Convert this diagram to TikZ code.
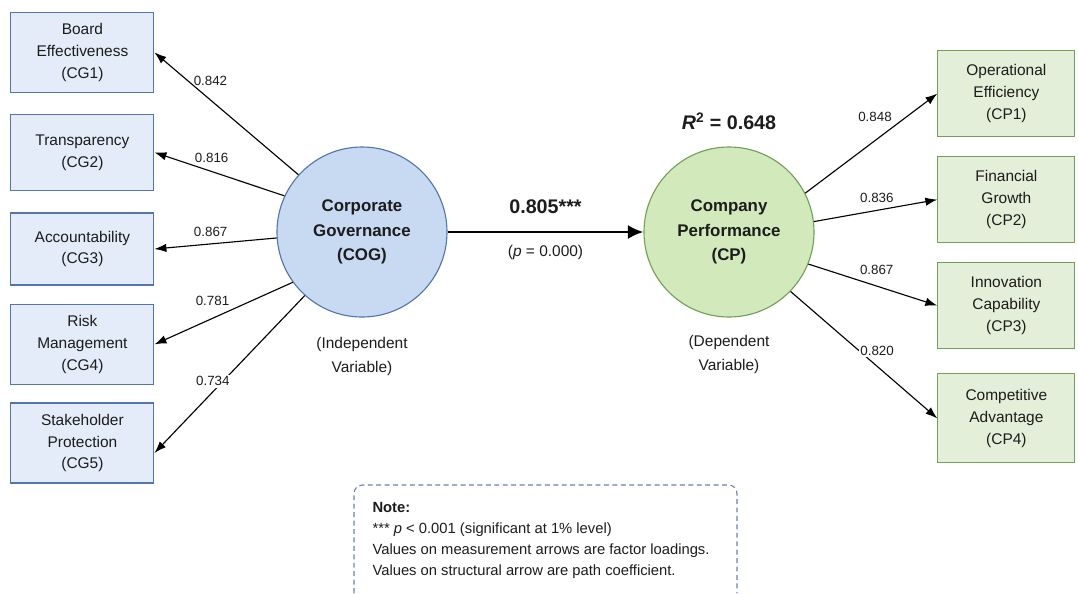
\documentclass[tikz,border=0pt]{standalone}
\usepackage{fontspec}
\setmainfont{Liberation Sans}
\usetikzlibrary{positioning,arrows.meta}

\definecolor{cgfill}{HTML}{E3ECF8}
\definecolor{cgedge}{HTML}{5475AD}
\definecolor{cogfill}{HTML}{C8DAF2}
\definecolor{cpfill}{HTML}{E3EFD8}
\definecolor{cpedge}{HTML}{74A055}
\definecolor{cpcfill}{HTML}{D2E9BC}
\definecolor{noteedge}{HTML}{6A7FBE}
\definecolor{ink}{HTML}{1C1C1C}

\begin{document}
\begin{tikzpicture}[>={Latex[length=8.5pt,width=6pt]},thick,text=ink,
  cgbox/.style={draw=cgedge,fill=cgfill,thick,minimum width=3.575cm,minimum height=2cm,
    align=center,font=\fontsize{11}{15.6}\selectfont},
  cpbox/.style={draw=cpedge,fill=cpfill,thick,minimum width=3.425cm,minimum height=2.15cm,
    align=center,font=\fontsize{11}{15.6}\selectfont},
  latent/.style={circle,thick,minimum size=4.25cm,inner sep=0pt,align=center,
    font=\bfseries\fontsize{12}{17.5}\selectfont},
  tag/.style={align=center,font=\fontsize{11}{16.5}\selectfont},
  load/.style={font=\fontsize{9.5}{11}\selectfont,inner sep=2pt}]
  \useasboundingbox (0,0) rectangle (26.95,-14.825);

  % Latent variables
  \node[latent,draw=cgedge,fill=cogfill] (cog) at (9.05,-5.8) {Corporate\\Governance\\(COG)};
  \node[latent,draw=cpedge,fill=cpcfill] (cp) at (18.225,-5.8) {Company\\Performance\\(CP)};
  \node[tag,below=0.37cm of cog] (cogtag) {(Independent\\Variable)};
  \node[tag,below=0.32cm of cp] (cptag) {(Dependent\\Variable)};
  \node[above=0.28cm of cp,font=\bfseries\fontsize{14}{16}\selectfont] (rsq) {\textit{R}\textsuperscript{2} = 0.648};

  % Indicators of COG
  \node[cgbox] (cg1) at (2.06,-1.31) {Board\\Effectiveness\\(CG1)};
  \node[cgbox,minimum height=1.9cm] (cg2) at (2.06,-3.81) {Transparency\\(CG2)};
  \node[cgbox,minimum height=1.8cm] (cg3) at (2.06,-6.225) {Accountability\\(CG3)};
  \node[cgbox] (cg4) at (2.06,-8.61) {Risk\\Management\\(CG4)};
  \node[cgbox] (cg5) at (2.06,-11.075) {Stakeholder\\Protection\\(CG5)};

  % Indicators of CP
  \node[cpbox] (cp1) at (25.16,-2.34) {Operational\\Efficiency\\(CP1)};
  \node[cpbox] (cp2) at (25.16,-4.99) {Financial\\Growth\\(CP2)};
  \node[cpbox] (cp3) at (25.16,-7.64) {Innovation\\Capability\\(CP3)};
  \node[cpbox,minimum height=2.225cm] (cp4) at (25.16,-10.46) {Competitive\\Advantage\\(CP4)};

  % Loadings
  \draw[->] (cog.138) -- (cg1.east) node[load,pos=0.77,anchor=west,xshift=2pt] {0.842};
  \draw[->] (cog.155) -- (cg2.east) node[load,pos=0.56,above=4pt] {0.816};
  \draw[->] (cog.184) -- (cg3.east) node[load,pos=0.54,above=3pt] {0.867};
  \draw[->] (cog.216) -- (cg4.east) node[load,pos=0.435,anchor=south east] {0.781};
  \draw[->] (cog.228) -- ([yshift=-0.25cm]cg5.east) node[load,pos=0.545,fill=white,inner sep=1pt,xshift=-0.25cm] {0.734};

  \draw[->] (cp.27) -- (cp1.west) node[load,pos=0.68,anchor=south east] {0.848};
  \draw[->] (cp.7) -- (cp2.west) node[load,pos=0.51,above=3pt] {0.836};
  \draw[->] (cp.338) -- (cp3.west) node[load,pos=0.53,above=6pt] {0.867};
  \draw[->] (cp.316) -- (cp4.west) node[load,pos=0.467,fill=white,inner sep=1pt,xshift=0.45cm] {0.820};

  % Structural path
  \draw[-{Latex[length=11pt,width=10pt]},line width=1.8pt] (cog) -- (cp)
    node[midway,above=9pt,font=\bfseries\fontsize{14}{16}\selectfont] (beta) {0.805***}
    node[midway,below=5.5pt,font=\fontsize{11}{13}\selectfont] (pval) {(\textit{p} = 0.000)};

  % Note
  \draw[noteedge,thick,dash pattern=on 3.5pt off 2.5pt,rounded corners=6pt]
    (8.85,-14.825) -- (8.85,-12.125) -- (18.425,-12.125) -- (18.425,-14.825);
  \node[anchor=north west,align=left,inner sep=0pt,font=\fontsize{10.5}{15}\selectfont] (note) at (9.3,-12.55)
    {\textbf{Note:}\\*** \textit{p} < 0.001 (significant at 1\% level)\\
     Values on measurement arrows are factor loadings.\\
     Values on structural arrow are path coefficient.};
\end{tikzpicture}
\end{document}
